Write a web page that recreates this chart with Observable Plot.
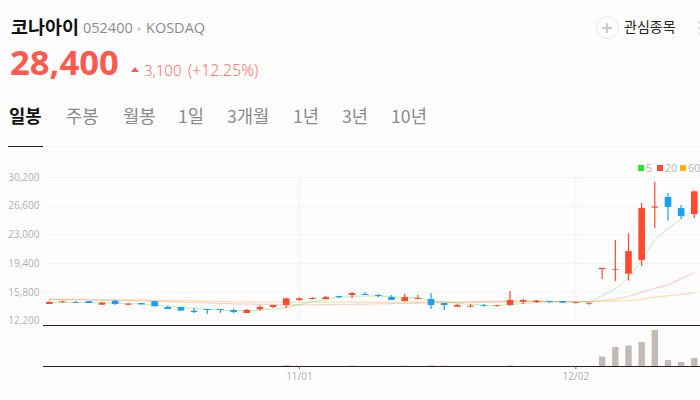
<!DOCTYPE html>
<html><head><meta charset="utf-8">
<script src="https://cdn.jsdelivr.net/npm/d3@7"></script>
<script src="https://cdn.jsdelivr.net/npm/@observablehq/plot@0.6"></script>
<style>
html,body{margin:0;padding:0;background:#fdfdfd;width:700px;height:400px;overflow:hidden;font-family:"Open Sans","Noto Sans CJK KR",sans-serif}
.a{position:absolute;white-space:nowrap;line-height:1}
.k{font-family:"Noto Sans CJK KR",sans-serif}
svg{position:absolute;left:0;background:transparent}
</style></head><body>
<div id="hdr"></div>
<div id="c"></div>
<script>
const name="코나아이", code="052400", market="KOSDAQ", price="28,400", change="3,100", pct="(+12.25%)";
const tabs=["일봉","주봉","월봉","1일","3개월","1년","3년","10년"];
const tabX=[9,66,123,178,227,293,342,391];
const yTicks=[30200,26600,23000,19400,15800,12200];
const dateTicks=[19,40], dateLabels=["11/01","12/02"];
const open=[14270,14520,14520,14640,14180,14680,14180,14390,14640,13890,13890,13430,13640,13640,13520,13140,13600,13890,14140,14770,14900,14900,15270,15400,15520,15400,15150,14640,14900,14900,14390,13930,13930,14140,14050,14140,14560,14520,14640,14640,14430,14310,18650,18570,18070,19800,26350,27700,26300,25550];
const close=[14520,14600,14430,14390,14430,14270,14310,14230,13980,13640,13450,13260,13520,13520,13260,13520,13890,14140,14980,14980,15020,15150,15150,15650,15400,15270,14770,15150,15020,14140,14140,14140,14050,14050,14140,14770,14770,14680,14520,14430,14520,14430,18800,18660,20900,26300,26500,26450,25300,28400];
const high=[14640,14680,14640,14640,14560,14770,14430,14430,14640,14050,13890,13770,13640,13640,13680,13640,14140,14140,15020,15110,15150,15270,15270,15770,15770,15520,15400,15520,15400,15650,14390,14270,14310,14270,14140,15900,14900,14770,14640,14640,14520,14430,18800,22300,23150,26950,29600,28200,26700,28500];
const low=[14270,14390,14390,14390,14140,14140,14100,14230,13980,13640,13450,13140,13010,13140,13140,13140,13430,13770,13770,14680,14860,14860,14980,15020,15400,15150,14770,14640,14900,13640,13520,13930,13930,13930,13930,14050,14270,14390,14390,14390,14310,14180,17400,17150,17200,19050,23800,24700,24950,25050];
const ma5=[14520,14520,14544,14520,14480,14444,14394,14318,14180,14093,13917,13792,13691,13578,13516,13478,13566,13704,13917,14268,14582,14895,15146,15272,15334,15322,15247,15184,15121,14770,14607,14431,14268,14180,14143,14268,14394,14520,14570,14594,14582,14607,15397,16238,17693,19788,22296,23764,25018,26348];
const ma20=[14870,14870,14845,14833,14795,14770,14745,14707,14670,14620,14570,14520,14456,14394,14356,14318,14293,14256,14230,14230,14230,14243,14268,14293,14318,14343,14369,14406,14444,14481,14507,14544,14582,14620,14645,14682,14707,14682,14645,14632,14645,14645,14770,14983,15272,15811,16313,16739,17492,18245];
const ma60=[14933,14920,14908,14895,14883,14870,14858,14845,14820,14770,14745,14720,14670,14645,14607,14594,14582,14570,14570,14557,14557,14570,14594,14594,14570,14557,14557,14557,14557,14557,14557,14557,14557,14557,14557,14557,14645,14657,14657,14657,14645,14645,14670,14707,14770,14933,15184,15359,15522,15735];
const volume=[0,0,0,0,0,0,0,0,0,0,0,0,0,0,0,0,0,0,0.8,0.3,0,0,0,0.3,0,0,0.2,0.3,0,0.5,0.3,0,0,0,0,0.6,0.2,0,0,0,0.1,0.1,9.5,19,20.5,24,36,6,4,8];

const RED="#ff4a2e", BLUE="#1a9ff5", GREY="#b0b0b0";
const idx=open.map((_,i)=>i);
const xDom=[-0.44,49.47];
const color=i=>close[i]>=open[i]?RED:BLUE;

const hdr=document.getElementById("hdr");
const put=(t,x,y,st,cls)=>{const d=document.createElement("div");d.className="a "+(cls||"");d.textContent=t;d.style.cssText=`left:${x}px;top:${y}px;${st}`;hdr.appendChild(d);return d;};
put(name,11,16.5,"font-size:18.5px;font-weight:700;color:#111","k");
put(code,83,21,"font-size:14.5px;color:#8c8c8c");
put(market,146,21,"font-size:14.5px;color:#8c8c8c");
put("",137,27,"width:4px;height:4px;border-radius:50%;background:#d8d8d8");
put(price,10,45,"font-size:34.6px;font-weight:700;color:#ff5a4d");
put("",131,67,"width:0;height:0;border-left:4.5px solid transparent;border-right:4.5px solid transparent;border-bottom:5px solid #ff5a4d");
put(change,144,63,"font-size:15px;color:#ff5f50;font-weight:300");
put(pct,188,63,"font-size:15.8px;color:#ff5f50;font-weight:300");
tabs.forEach((t,i)=>put(t,tabX[i],107,`font-size:17.7px;color:${i?"#8a8a8a":"#111"};font-weight:${i?400:700}`,"k"));
put("",8,146,"width:35px;height:1px;background:#222");
put("",43,146,"width:657px;height:1px;background:#f5f5f5");
put("",596,16,"width:21px;height:21px;border:1px solid #ebebeb;border-radius:50%;box-sizing:content-box");
put("",602,26.5,"width:10px;height:2px;background:#c8c8c8");
put("",606,22.5,"width:2px;height:10px;background:#c8c8c8");
put("관심종목",624,19,"font-size:14px;color:#222","k");
put("",698,21,"width:2px;height:14px;background:repeating-linear-gradient(#e0e0e0 0 3px,transparent 3px 6px)");
[["5","#22e82a",638],["20",RED,657],["60","#ffb400",680]].forEach(([t,c,x])=>{
  put("",x,165,`width:6px;height:6px;background:${c}`);
  put(t,x+8,163,"font-size:10.5px;color:#b5b5b5");
});

const lineFor=(vals,c,w,o)=>Plot.line(idx,{x:i=>i,y:i=>vals[i],stroke:c,strokeWidth:w,strokeOpacity:o,curve:"monotone-x"});
const main=Plot.plot({
  width:700,height:170,marginTop:17,marginBottom:9.5,marginLeft:43,marginRight:0,
  style:{background:"transparent",fontFamily:'"Open Sans",sans-serif',fontSize:"10px",color:GREY,position:"absolute",top:"160px"},
  x:{domain:xDom,axis:null},
  y:{domain:[12200,30200],axis:null},
  marks:[
    Plot.ruleY(yTicks,{stroke:"#f4f4f4"}),
    Plot.ruleX(dateTicks,{stroke:"#f2f2f2"}),
    Plot.axisY({ticks:yTicks,tickSize:0,tickPadding:4,tickFormat:d3.format(","),fill:GREY,fontSize:10}),
    lineFor(ma60,"#ffa726",1.2,.36),
    lineFor(ma20,"#ff6a55",1.2,.3),
    lineFor(ma5,"#50d84a",1,.4),
    Plot.ruleX(idx,{x:i=>i,y1:i=>low[i],y2:i=>high[i],stroke:color,strokeWidth:1.2}),
    Plot.ruleX(idx,{x:i=>i,y1:i=>open[i],y2:i=>close[i],stroke:color,strokeWidth:6.6})
  ]
});
const vol=Plot.plot({
  width:700,height:80,marginTop:5,marginBottom:34,marginLeft:43,marginRight:0,
  style:{background:"transparent",fontFamily:'"Open Sans",sans-serif',fontSize:"10px",color:GREY,position:"absolute",top:"320px"},
  x:{domain:xDom,axis:null},
  y:{domain:[0,41],axis:null},
  marks:[
    Plot.ruleX(idx,{x:i=>i,y1:0,y2:i=>volume[i],stroke:"#c2bab6",strokeWidth:6.4}),
    Plot.ruleY([0,41],{stroke:"#2a2022",strokeWidth:1}),
    Plot.axisX({ticks:dateTicks,tickSize:3,tickPadding:3,tickFormat:d=>dateLabels[dateTicks.indexOf(d)],stroke:"#666",fill:GREY,fontSize:10,label:null})
  ]
});
const c=document.getElementById("c");c.append(main,vol);
</script></body></html>
